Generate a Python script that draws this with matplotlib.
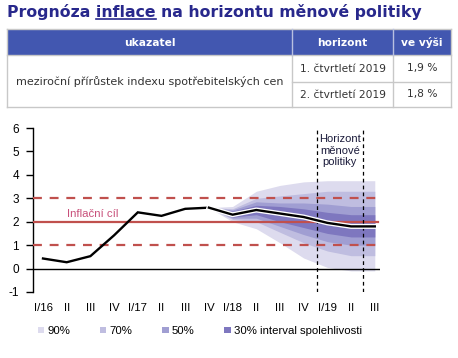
import matplotlib
matplotlib.use('Agg')
import matplotlib.pyplot as plt
import numpy as np
from matplotlib.patches import Rectangle, Patch
from matplotlib.lines import Line2D
import matplotlib.patheffects as pe

# ---------------- data ----------------
quarters = ['I/16', 'II', 'III', 'IV', 'I/17', 'II', 'III', 'IV',
            'I/18', 'II', 'III', 'IV', 'I/19', 'II', 'III']
cpi = [0.43, 0.27, 0.53, 1.42, 2.40, 2.25, 2.55, 2.60,
       2.30, 2.50, 2.35, 2.20, 1.95, 1.80, 1.80]
fan_first = 7  # fan starts at IV/17
fan90_lo = [2.60, 2.00, 1.70, 1.10, 0.45, 0.05, -0.10, -0.10]
fan90_hi = [2.60, 2.65, 3.30, 3.55, 3.70, 3.75, 3.75, 3.75]
fan70_lo = [2.60, 2.10, 2.00, 1.55, 1.10, 0.75, 0.55, 0.55]
fan70_hi = [2.60, 2.55, 3.00, 3.10, 3.20, 3.30, 3.30, 3.30]
fan50_lo = [2.60, 2.15, 2.15, 1.80, 1.45, 1.15, 1.00, 1.00]
fan50_hi = [2.60, 2.50, 2.85, 2.80, 2.80, 2.75, 2.65, 2.65]
fan30_lo = [2.60, 2.20, 2.30, 2.00, 1.75, 1.50, 1.35, 1.35]
fan30_hi = [2.60, 2.45, 2.70, 2.65, 2.55, 2.40, 2.30, 2.30]
target = 2.0
target_band = 1.0
horizon_bounds = [11.55, 13.5]
legend_labels = ['90%', '70%', '50%', '30% interval spolehlivosti']
fan_colors = ['#dddbee', '#bfbde0', '#a09ed2', '#7e77bf']

title_parts = ['Prognóza ', 'inflace', ' na horizontu měnové politiky']
table_header = ['ukazatel', 'horizont', 've výši']
table_indicator = 'meziroční přírůstek indexu spotřebitelských cen'
table_horizons = ['1. čtvrtletí 2019', '2. čtvrtletí 2019']
table_values = ['1,9 %', '1,8 %']

# ---------------- figure ----------------
W, H = 458, 358
fig = plt.figure(figsize=(W / 100, H / 100), dpi=100)
fig.patch.set_facecolor('white')

def fx(px):
    return px / W

def fy(py):
    return 1 - py / H

# ---- title ----
title_color = '#28288c'
tfont = dict(family='DejaVu Sans', weight='bold', size=11.3, color=title_color)
full_title = ''.join(title_parts)
t = fig.text(fx(7), fy(17), full_title, ha='left', va='baseline', **tfont)
fig.canvas.draw()
r = fig.canvas.get_renderer()
tmp1 = fig.text(fx(7), fy(17), title_parts[0] + title_parts[1], ha='left', va='baseline', **tfont)
tmp2 = fig.text(fx(7), fy(17), title_parts[1], ha='left', va='baseline', **tfont)
e1 = tmp1.get_window_extent(r)
e2 = tmp2.get_window_extent(r)
tmp1.remove(); tmp2.remove()
x_end = e1.x1
x_start = x_end - e2.width
fig.add_artist(Line2D([x_start / W + 0.001, x_end / W], [fy(19), fy(19)],
                      transform=fig.transFigure, color=title_color, lw=1.2))

# ---- table ----
hdr_color = '#4257b0'
grid_col = '#c8c8c8'
L, C1, C2, R = 7, 292, 393, 451
T, HB, MID, B = 29, 55, 82, 107
fig.add_artist(Rectangle((fx(L), fy(HB)), (R - L) / W, (HB - T) / H,
                         transform=fig.transFigure, facecolor=hdr_color, edgecolor='none'))
def hline(x0, x1, y, c=grid_col):
    fig.add_artist(Line2D([fx(x0), fx(x1)], [fy(y), fy(y)], transform=fig.transFigure, color=c, lw=1))
def vline(x, y0, y1, c=grid_col):
    fig.add_artist(Line2D([fx(x), fx(x)], [fy(y0), fy(y1)], transform=fig.transFigure, color=c, lw=1))
hline(L, R, T); hline(L, R, B); hline(L, R, HB); hline(C1, R, MID)
vline(L, T, B); vline(R, T, B)
vline(C1, HB, B); vline(C2, HB, B)
vline(C1, T, HB, '#b8c0e0'); vline(C2, T, HB, '#b8c0e0')

hfont = dict(family='DejaVu Sans', weight='bold', size=7.7, color='white')
bfont = dict(family='DejaVu Sans', size=8.0, color='#333333')
fig.text(fx((L + C1) / 2), fy(42.5), table_header[0], ha='center', va='center', **hfont)
fig.text(fx((C1 + C2) / 2), fy(42.5), table_header[1], ha='center', va='center', **hfont)
fig.text(fx((C2 + R) / 2), fy(42.5), table_header[2], ha='center', va='center', **hfont)
fig.text(fx((L + C1) / 2) + 0.001, fy(81.5), table_indicator, ha='center', va='center', **bfont)
for i, (hz, v) in enumerate(zip(table_horizons, table_values)):
    yc = (HB + MID) / 2 if i == 0 else (MID + B) / 2
    fig.text(fx((C1 + C2) / 2), fy(yc), hz, ha='center', va='center', **dict(bfont, size=7.7))
    fig.text(fx((C2 + R) / 2), fy(yc), v, ha='center', va='center', **dict(bfont, size=7.7))

# ---- chart ----
ax = fig.add_axes([fx(33), fy(292), (380 - 33) / W, (292 - 128) / H])
ax.set_facecolor('none')
x = np.arange(len(quarters))
xmin, xmax = -0.422, 14.22
ax.set_xlim(xmin, xmax)
ax.set_ylim(-1, 6)

xf = x[fan_first:]
for lo, hi, c in [(fan90_lo, fan90_hi, fan_colors[0]), (fan70_lo, fan70_hi, fan_colors[1]),
                  (fan50_lo, fan50_hi, fan_colors[2]), (fan30_lo, fan30_hi, fan_colors[3])]:
    ax.fill_between(xf, lo, hi, color=c, lw=0, zorder=1)

red = '#c0504d'
xe = 14.12
ax.plot([xmin, xe], [target, target], color=red, lw=1.6, zorder=3)
ax.plot([xmin, xe], [target + target_band] * 2, color=red, lw=1.6, dashes=(4, 3.5), zorder=3)
ax.plot([xmin, xe], [target - target_band] * 2, color=red, lw=1.6, dashes=(4, 3.5), zorder=3)
ax.plot([xmin, xmax], [0, 0], color='black', lw=1, zorder=3)

for hb in horizon_bounds:
    ax.plot([hb, hb], [-1, 6], color='black', lw=0.9, dashes=(3, 2.5), zorder=4)

ax.plot(x[:fan_first + 1], cpi[:fan_first + 1], color='black', lw=1.7, zorder=5,
        solid_joinstyle='miter')
ax.plot(x[fan_first:], cpi[fan_first:], color='black', lw=1.7, zorder=5,
        path_effects=[pe.Stroke(linewidth=3.6, foreground='white'), pe.Normal()])

cfont = 'Liberation Sans'
ax.text(1.0, 2.35, 'Inflační cíl', color='#c8507a', fontsize=8.2, family=cfont,
        ha='left', va='center', zorder=6)
ax.text(np.mean(horizon_bounds), 5.73, 'Horizont\nměnové\npolitiky', color='#1a1a3a',
        fontsize=8, family=cfont, ha='center', va='top', linespacing=1.15, zorder=6)

for s in ['top', 'right', 'bottom']:
    ax.spines[s].set_visible(False)
ax.spines['left'].set_linewidth(1)
ax.set_yticks(range(-1, 7))
ax.set_yticklabels([str(v) for v in range(-1, 7)], fontsize=8.5, family=cfont)
ax.tick_params(axis='y', length=5, width=1, direction='out', pad=5)
ax.set_xticks(x)
ax.set_xticklabels(quarters, fontsize=8.2, family=cfont)
ax.tick_params(axis='x', length=0, pad=8)

handles = [Patch(facecolor=c, edgecolor='none') for c in fan_colors]
fig.legend(handles, legend_labels, loc='center left', bbox_to_anchor=(fx(38), fy(331)),
           ncol=4, frameon=False, handlelength=0.55, handleheight=0.55, handletextpad=0.3,
           columnspacing=2.6, borderpad=0, borderaxespad=0,
           prop=dict(family=cfont, size=8.2))

fig.savefig('out.png', dpi=100, facecolor='white')
